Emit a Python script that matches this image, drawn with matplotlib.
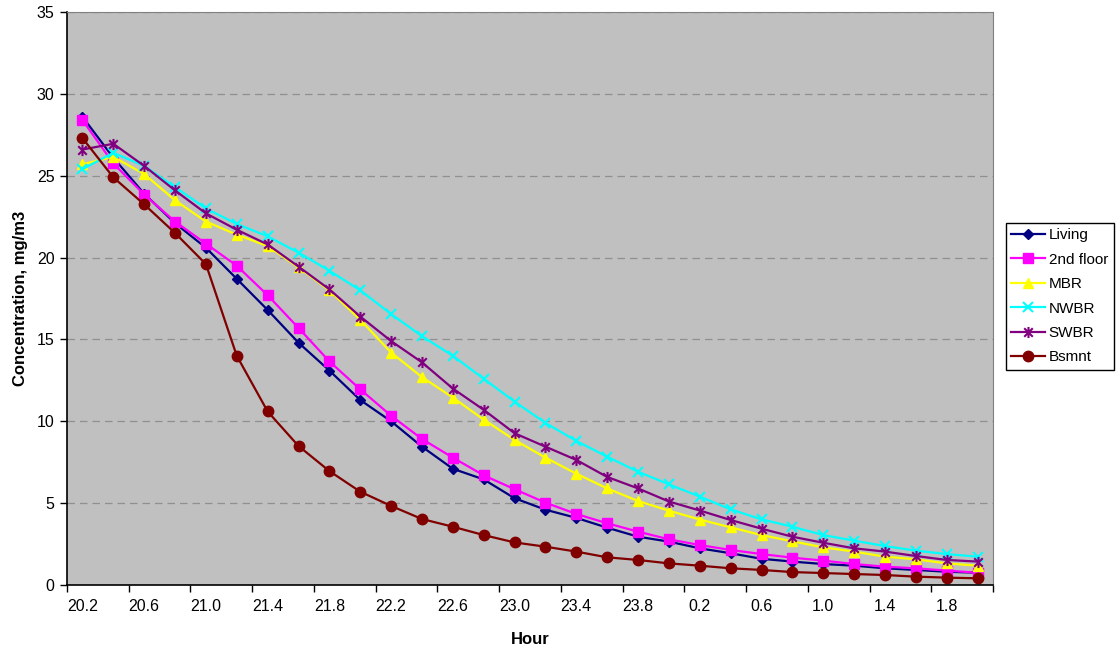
import matplotlib
matplotlib.use('Agg')
import matplotlib.pyplot as plt
from matplotlib.path import Path

plt.rcParams['font.family'] = ['Liberation Sans', 'DejaVu Sans']

# hours of the test (category axis, rolls over midnight)
hours = [20.2, 20.4, 20.6, 20.8, 21.0, 21.2, 21.4, 21.6, 21.8, 22.0,
         22.2, 22.4, 22.6, 22.8, 23.0, 23.2, 23.4, 23.6, 23.8,
         0.0, 0.2, 0.4, 0.6, 0.8, 1.0, 1.2, 1.4, 1.6, 1.8, 2.0]

living = [28.6, 26.1, 23.9, 22.1, 20.6, 18.7, 16.8, 14.8, 13.1, 11.3,
          10.0, 8.45, 7.1, 6.45, 5.3, 4.6, 4.1, 3.5, 2.95, 2.65,
          2.24, 1.94, 1.6, 1.43, 1.28, 1.18, 1.02, 0.92, 0.81, 0.75]
floor2 = [28.4, 25.75, 23.85, 22.2, 20.85, 19.5, 17.7, 15.7, 13.66, 11.95,
          10.34, 8.92, 7.78, 6.7, 5.85, 5.03, 4.34, 3.77, 3.26, 2.79,
          2.44, 2.14, 1.89, 1.67, 1.49, 1.28, 1.12, 1.02, 0.88, 0.75]
mbr = [25.7, 26.15, 25.1, 23.5, 22.2, 21.4, 20.7, 19.4, 18.0, 16.2,
       14.2, 12.7, 11.45, 10.1, 8.86, 7.78, 6.8, 5.9, 5.13, 4.54,
       4.0, 3.52, 3.05, 2.67, 2.3, 2.04, 1.73, 1.57, 1.32, 1.18]
nwbr = [25.4, 26.4, 25.6, 24.3, 23.0, 22.05, 21.3, 20.3, 19.2, 18.0,
        16.55, 15.2, 14.0, 12.6, 11.2, 9.9, 8.8, 7.84, 6.92, 6.15,
        5.4, 4.62, 4.01, 3.56, 3.05, 2.71, 2.38, 2.1, 1.89, 1.73]
swbr = [26.6, 26.95, 25.6, 24.1, 22.7, 21.7, 20.8, 19.45, 18.06, 16.4,
        14.9, 13.6, 12.0, 10.7, 9.27, 8.45, 7.64, 6.6, 5.9, 5.1,
        4.55, 3.97, 3.44, 2.95, 2.58, 2.24, 2.04, 1.77, 1.53, 1.43]
bsmnt = [27.3, 24.9, 23.25, 21.5, 19.6, 14.0, 10.6, 8.49, 6.96, 5.7,
         4.83, 4.03, 3.56, 3.05, 2.6, 2.34, 2.04, 1.69, 1.53, 1.32,
         1.18, 1.02, 0.92, 0.79, 0.73, 0.67, 0.61, 0.51, 0.45, 0.41]

names = ['Living', '2nd floor', 'MBR', 'NWBR', 'SWBR', 'Bsmnt']
series = [living, floor2, mbr, nwbr, swbr, bsmnt]

# excel-like star: an x with a vertical bar through it
star = Path([(-1, -1), (1, 1), (-1, 1), (1, -1), (0, -1.3), (0, 1.3)],
            [Path.MOVETO, Path.LINETO, Path.MOVETO, Path.LINETO, Path.MOVETO, Path.LINETO])

styles = [
    dict(color='#000080', marker='D', ms=5.5),
    dict(color='#FF00FF', marker='s', ms=7),
    dict(color='#FFFF00', marker='^', ms=7.5),
    dict(color='#00FFFF', marker='x', ms=7, mew=1.5),
    dict(color='#800080', marker=star, ms=8, mew=1.5),
    dict(color='#800000', marker='o', ms=7.5),
]

fig = plt.figure(figsize=(11.19, 6.48), dpi=100)
ax = fig.add_axes([67 / 1119, 1 - 585 / 648, (993 - 67) / 1119, (585 - 12) / 648])
ax.set_facecolor('#C0C0C0')

x = list(range(len(hours)))
for name, vals, st in zip(names, series, styles):
    ax.plot(x, vals, label=name, lw=1.6, **st)

ax.set_xlim(-0.5, len(hours) - 0.5)
ax.set_ylim(0, 35)
ax.set_yticks(range(0, 36, 5))
ax.yaxis.grid(True, color='#909090', linestyle=(0, (6, 4)), lw=0.9)
ax.set_axisbelow(True)

# labels every second hour, tick marks between categories
ax.set_xticks(x[::2])
ax.set_xticklabels(['%.1f' % h for h in hours[::2]])
ax.set_xticks([i - 0.5 for i in range(0, len(hours) + 1, 2)], minor=True)
ax.tick_params(axis='x', which='major', length=0, pad=10, labelsize=11.5)
ax.tick_params(axis='x', which='minor', length=5, width=1, color='black')
ax.tick_params(axis='y', length=5, width=1, pad=4, labelsize=11.5)

for s in ['top', 'right']:
    ax.spines[s].set_color('#808080')
for s in ['left', 'bottom']:
    ax.spines[s].set_color('black')
    ax.spines[s].set_linewidth(1.2)

ax.set_xlabel('Hour', fontweight='bold', fontsize=12, labelpad=13)
ax.set_ylabel('Concentration, mg/m3', fontweight='bold', fontsize=12, labelpad=6)

leg = fig.legend(loc='upper left', bbox_to_anchor=(1006 / 1119, 1 - 223 / 648),
                 borderaxespad=0, fancybox=False, framealpha=1, edgecolor='black',
                 fontsize=11, handlelength=2.2, labelspacing=0.68, borderpad=0.35,
                 handletextpad=0.25)
leg.get_frame().set_linewidth(1)

fig.savefig('out.png', dpi=100)
